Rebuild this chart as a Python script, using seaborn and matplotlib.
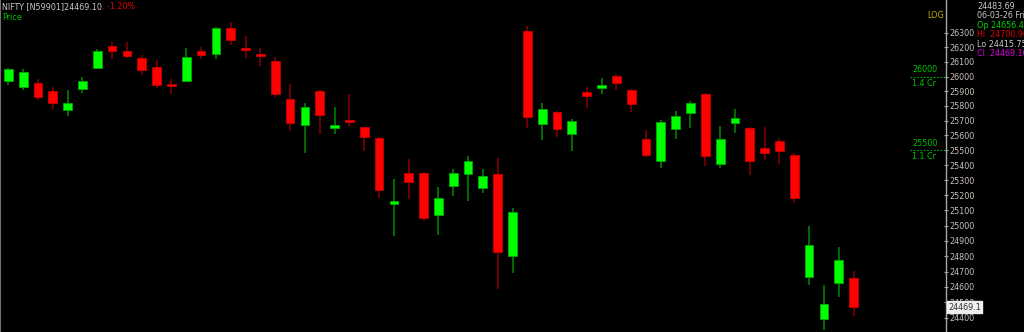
import matplotlib
matplotlib.use("Agg")
import matplotlib.pyplot as plt
import matplotlib.transforms as mtrans
from matplotlib.ticker import FixedLocator, NullLocator, FixedFormatter
import numpy as np
import pandas as pd
import seaborn as sns

# ---- data ----
opens = [25970, 25931, 25954, 25903, 25770, 25916, 26057, 26210, 26174, 26126,
         26068, 25947, 25970, 26178, 26157, 26337, 26194, 26152, 26109, 25845,
         25673, 25901, 25649, 25705, 25655, 25585, 25145, 25349, 25349, 25068,
         25262, 25344, 25251, 25340, 24803, 26314, 25678, 25761, 25608, 25893,
         25924, 26002, 25908, 25577, 25429, 25642, 25754, 25878, 25409, 25682,
         25649, 25516, 25561, 25467, 24664, 24395, 24623, 24656.40]
highs = [26061, 26050, 25982, 25931, 25908, 25995, 26190, 26238, 26238, 26150,
         26114, 25984, 26194, 26203, 26344, 26378, 26277, 26194, 26137, 25947,
         25818, 25905, 25795, 25879, 25660, 25590, 25309, 25440, 25353, 25256,
         25377, 25462, 25377, 25449, 25115, 26348, 25822, 25765, 25709, 25927,
         25992, 26016, 25912, 25635, 25705, 25768, 25833, 25890, 25666, 25779,
         25655, 25657, 25581, 25481, 24997, 24612, 24863, 24700.90]
lows = [25942, 25908, 25840, 25779, 25732, 25886, 26050, 26123, 26130, 26013,
        25924, 25881, 25968, 26119, 26123, 26217, 26130, 26073, 25863, 25630,
        25481, 25610, 25610, 25666, 25498, 25181, 24932, 25174, 25032, 24939,
        25196, 25165, 25218, 24585, 24688, 25649, 25570, 25588, 25498, 25786,
        25879, 25908, 25759, 25454, 25382, 25577, 25651, 25395, 25384, 25615,
        25335, 25436, 25409, 25148, 24612, 24320, 24537, 24415.75]
closes = [26052, 26029, 25863, 25820, 25822, 25968, 26178, 26178, 26144, 26047,
          25942, 25936, 26132, 26146, 26333, 26250, 26181, 26141, 25879, 25686,
          25795, 25739, 25671, 25693, 25588, 25236, 25165, 25291, 25052, 25183,
          25349, 25427, 25327, 24830, 25092, 25727, 25779, 25646, 25698, 25869,
          25942, 25958, 25811, 25471, 25689, 25730, 25822, 25459, 25577, 25718,
          25427, 25485, 25498, 25181, 24871, 24490, 24775, 24469.10]

tick_values = list(range(24400, 26301, 100))
tick_labels = [str(v) for v in tick_values]
level_prices = [26000, 25500]
level_volumes = ["1.4 Cr", "1.1 Cr"]
last_close_label = "24469.1"
header_text = "NIFTY [N59901]24469.10"
change_text = ", -1.20%"
info_lines = ["24483.69", "06-03-26 Fri", "Op 24656.40", "Hi  24700.90",
              "Lo 24415.75", "Cl  24469.10"]

# ---- styling ----
sns.set_theme(style="dark", rc={"axes.facecolor": "black",
                                "figure.facecolor": "black"})
plt.rcParams["font.family"] = ["DejaVu Sans"]
FS = 5.8
W, H = 1024, 332

fig = plt.figure(figsize=(W / 100, H / 100), dpi=100, facecolor="black")
ax = fig.add_axes([0, 0, 946 / W, 1])
ax.set_facecolor("black")
ax.grid(False)

df = pd.DataFrame({"open": opens, "high": highs, "low": lows, "close": closes})
df["idx"] = np.arange(len(df))
up = df["close"] >= df["open"]

wick_colors = np.where(up, "#008a00", "#8a0000")
body_colors = np.where(up, "#00ff00", "#ff0000")
edge_colors = np.where(up, "#00a800", "#c80000")

ax.vlines(df["idx"], df["low"], df["high"], colors=wick_colors, linewidth=1.1, zorder=2)
bottoms = np.minimum(df["open"], df["close"])
heights = np.abs(df["close"] - df["open"])
ax.bar(df["idx"], heights, bottom=bottoms, width=0.59, color=body_colors,
       edgecolor=edge_colors, linewidth=0.6, zorder=3)

ax.set_yscale("log")
ax.set_xlim(-0.56, 63.23)
ax.set_ylim(24310, 26529)
ax.set_xticks([])

ax.yaxis.tick_right()
ax.yaxis.set_major_locator(FixedLocator(tick_values))
ax.yaxis.set_major_formatter(FixedFormatter(tick_labels))
ax.yaxis.set_minor_locator(NullLocator())
ax.tick_params(axis="y", which="major", direction="inout", length=3, width=0.8,
               color="#a0a0a0", labelcolor="#c8c0bc", labelsize=FS, pad=1)

for s in ["top", "bottom"]:
    ax.spines[s].set_visible(False)
ax.spines["right"].set_color("#a8a8a8")
ax.spines["right"].set_linewidth(1.0)
ax.spines["left"].set_color("#707070")
ax.spines["left"].set_linewidth(1.5)

# level markers
blend = mtrans.blended_transform_factory(ax.transAxes, ax.transData)
for p, v in zip(level_prices, level_volumes):
    ax.hlines(p, 910 / 946, 1.0, transform=blend, colors="#00b000",
              linestyles=(0, (1.5, 1.5)), linewidth=0.8, zorder=4)
    ax.annotate(str(p), xy=(912 / 946, p), xycoords=blend, xytext=(0, 1.5),
                textcoords="offset points", ha="left", va="bottom",
                color="#00c000", fontsize=FS)
    ax.annotate(v, xy=(912 / 946, p), xycoords=blend, xytext=(0, -1.5),
                textcoords="offset points", ha="left", va="top",
                color="#00c000", fontsize=FS)

# last price box
ax.annotate(last_close_label, xy=(1.0, closes[-1]), xycoords=blend,
            xytext=(1.8, 0), textcoords="offset points", ha="left", va="center",
            color="#303030", fontsize=FS, annotation_clip=False,
            bbox=dict(boxstyle="square,pad=0.15", facecolor="#eeeeee",
                      edgecolor="#eeeeee"))

# header texts
t1 = fig.text(2 / W, 1 - 7 / H, header_text, color="#c8c8c8", fontsize=FS,
              ha="left", va="center")
fig.canvas.draw()
bb = t1.get_window_extent(renderer=fig.canvas.get_renderer())
fig.text(bb.x1 / W, 1 - 7 / H, change_text, color="#e00000", fontsize=FS,
         ha="left", va="center")
fig.text(2 / W, 1 - 17 / H, "Price", color="#00c000", fontsize=FS,
         ha="left", va="center")
fig.text(944 / W, 1 - 16 / H, "LOG", color="#c8b400", fontsize=FS,
         ha="right", va="center")

info_colors = ["#c8c8c8", "#c8c8c8", "#00d000", "#e00000", "#c8c8c8", "#e000e0"]
info_y = [6.7, 16, 25, 34.7, 44.3, 53.3]
for txt, col, yy in zip(info_lines, info_colors, info_y):
    fig.text(977 / W, 1 - yy / H, txt, color=col, fontsize=FS,
             ha="left", va="center")

fig.savefig("out.png", dpi=100, facecolor="black")
